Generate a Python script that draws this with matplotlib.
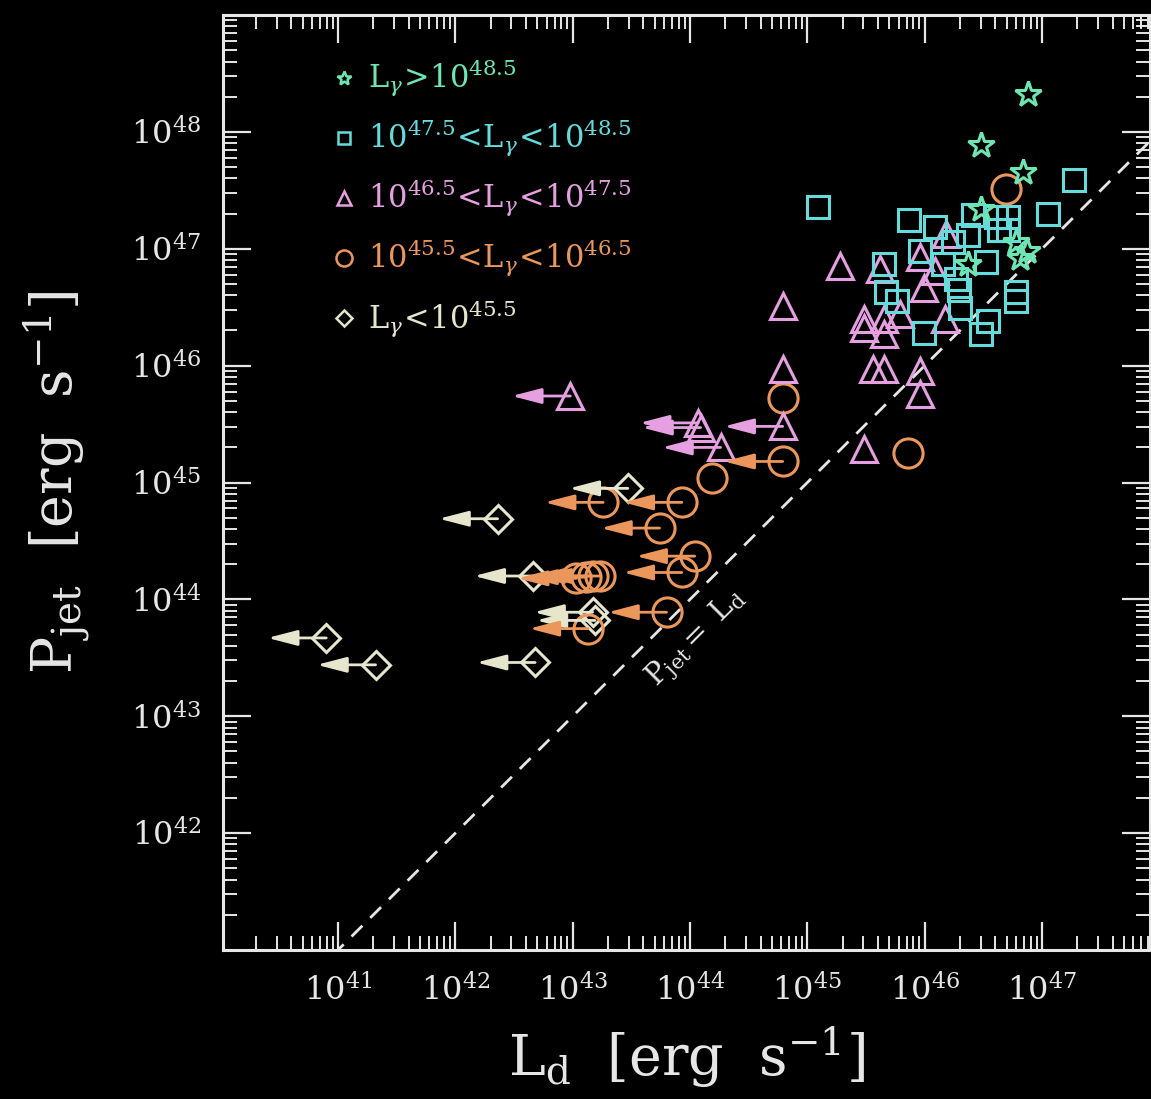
import numpy as np
import matplotlib
matplotlib.use('Agg')
import matplotlib.pyplot as plt
from matplotlib.ticker import LogLocator, NullFormatter, LogFormatterSciNotation

plt.rcParams['font.family'] = ['DejaVu Serif']
plt.rcParams['mathtext.fontset'] = 'dejavuserif'

# log10 values
star_lx = [46.88, 46.48, 46.84, 46.48, 46.78, 46.87, 46.81, 46.37]
star_ly = [48.32, 47.89, 47.66, 47.34, 47.06, 46.98, 46.92, 46.87]

sq_lx = [45.09, 47.27, 47.05, 45.87, 46.09, 46.41, 46.61, 46.71, 46.63, 46.71,
         46.37, 46.24, 45.96, 45.65, 45.67, 45.76, 46.29, 46.30, 46.52, 46.78,
         46.78, 46.54, 46.48, 45.99, 46.16, 46.27]
sq_ly = [47.36, 47.59, 47.30, 47.25, 47.19, 47.29, 47.27, 47.27, 47.16, 47.16,
         47.12, 47.06, 46.98, 46.87, 46.63, 46.55, 46.65, 46.49, 46.89, 46.63,
         46.55, 46.38, 46.27, 46.28, 46.87, 46.74]

tri_lx = [44.79, 44.79, 45.28, 45.62, 46.18, 45.96, 46.09, 45.99, 45.48, 45.65,
          45.79, 45.48, 45.65, 46.17, 45.56, 45.65, 45.96, 45.96, 45.48]
tri_ly = [46.51, 45.97, 46.85, 46.83, 47.13, 46.93, 46.81, 46.66, 46.40, 46.40,
          46.44, 46.32, 46.27, 46.40, 45.97, 45.97, 45.95, 45.76, 45.29]
tri_lim_lx = [42.98, 44.07, 44.09, 44.79, 44.26]
tri_lim_ly = [45.74, 45.51, 45.47, 45.48, 45.30]

circ_lx = [44.79, 45.86, 46.69, 44.19]
circ_ly = [45.72, 45.25, 47.51, 45.04]
circ_lim_lx = [44.79, 43.26, 43.93, 43.74, 44.04, 43.93, 43.03, 43.11, 43.17,
               43.23, 43.80, 43.13]
circ_lim_ly = [45.18, 44.83, 44.83, 44.61, 44.37, 44.23, 44.18, 44.19, 44.20,
               44.20, 43.89, 43.75]

dia_lim_lx = [43.47, 42.36, 42.66, 43.19, 43.17, 40.90, 41.32, 42.68]
dia_lim_ly = [44.95, 44.69, 44.20, 43.82, 43.89, 43.67, 43.44, 43.46]

arrow_dex = 0.5

labels = [r'$\mathrm{L}_\gamma\!>\!10^{48.5}$',
          r'$10^{47.5}\!<\!\mathrm{L}_\gamma\!<\!10^{48.5}$',
          r'$10^{46.5}\!<\!\mathrm{L}_\gamma\!<\!10^{47.5}$',
          r'$10^{45.5}\!<\!\mathrm{L}_\gamma\!<\!10^{46.5}$',
          r'$\mathrm{L}_\gamma\!<\!10^{45.5}$']
colors = ['#6EE6B4', '#64DCDC', '#E6A0E1', '#EB965A', '#E6E6CD']
markers = ['*', 's', '^', 'o', 'D']
msizes = [19, 16, 19, 21, 14]

fg = '#e6e6e6'
fig = plt.figure(figsize=(11.51, 10.99), dpi=100, facecolor='black')
ax = fig.add_axes([223 / 1151, 149 / 1099, 927 / 1151, 935 / 1099])
ax.set_facecolor('black')
ax.set_xscale('log')
ax.set_yscale('log')
ax.set_xlim(10**40.02, 10**47.92)
ax.set_ylim(10**41.0, 10**49.0)


def pts(lx, ly):
    return 10**np.array(lx), 10**np.array(ly)


def draw(lx, ly, i, limits=False):
    x, y = pts(lx, ly)
    if limits:
        for xi, yi in zip(x, y):
            ax.annotate('', xy=(xi / 10**arrow_dex, yi), xytext=(xi, yi),
                        arrowprops=dict(arrowstyle='-|>,head_length=1.0,head_width=0.26',
                                        color=colors[i], lw=2.0, shrinkA=0, shrinkB=0,
                                        mutation_scale=18))
    ax.plot(x, y, ls='none', marker=markers[i], ms=msizes[i], mfc='none',
            mec=colors[i], mew=2.2)


# P_jet = L_d line
ax.plot([1e40, 1e48], [1e40, 1e48], color=fg, lw=2, dashes=(5.5, 4))
ax.text(10**44.05, 10**43.67, r'$\mathrm{P_{jet}=\ L_d}$', color=fg, fontsize=21,
        rotation=45, rotation_mode='anchor', ha='center', va='center')

draw(dia_lim_lx, dia_lim_ly, 4, True)
draw(circ_lim_lx, circ_lim_ly, 3, True)
draw(circ_lx, circ_ly, 3)
draw(tri_lim_lx, tri_lim_ly, 2, True)
draw(tri_lx, tri_ly, 2)
draw(sq_lx, sq_ly, 1)
draw(star_lx, star_ly, 0)

# legend
for i in range(5):
    yy = 0.933 - i * 0.0643
    ax.plot(0.13, yy, marker=markers[i], ms=msizes[i] * 0.55, mfc='none',
            mec=colors[i], mew=1.8, transform=ax.transAxes)
    ax.text(0.156, yy, labels[i], color=colors[i], fontsize=22,
            transform=ax.transAxes, va='center', ha='left')

# ticks
ax.set_xticks([10.0**k for k in range(41, 48)])
ax.set_yticks([10.0**k for k in range(42, 49)])
ax.xaxis.set_major_formatter(LogFormatterSciNotation())
ax.yaxis.set_major_formatter(LogFormatterSciNotation())
for axis in (ax.xaxis, ax.yaxis):
    axis.set_minor_locator(LogLocator(base=10, subs=np.arange(2, 10), numticks=100))
    axis.set_minor_formatter(NullFormatter())
ax.tick_params(which='both', direction='in', top=True, right=True, colors=fg,
               labelsize=23)
ax.tick_params(which='major', length=20, width=1.6)
ax.tick_params(which='minor', length=10, width=1.4)
ax.tick_params(axis='x', pad=18)
ax.tick_params(axis='y', pad=16)
for s in ax.spines.values():
    s.set_color(fg)
    s.set_linewidth(2.2)

ax.set_xlabel(r'$\mathrm{L_d\ \ [erg\ \ s^{-1}]}$', color=fg, fontsize=40, labelpad=12)
ax.set_ylabel(r'$\mathrm{P_{jet}\ \ [erg\ \ s^{-1}]}$', color=fg, fontsize=40, labelpad=28)

fig.savefig('out.png', dpi=100, facecolor='black')
